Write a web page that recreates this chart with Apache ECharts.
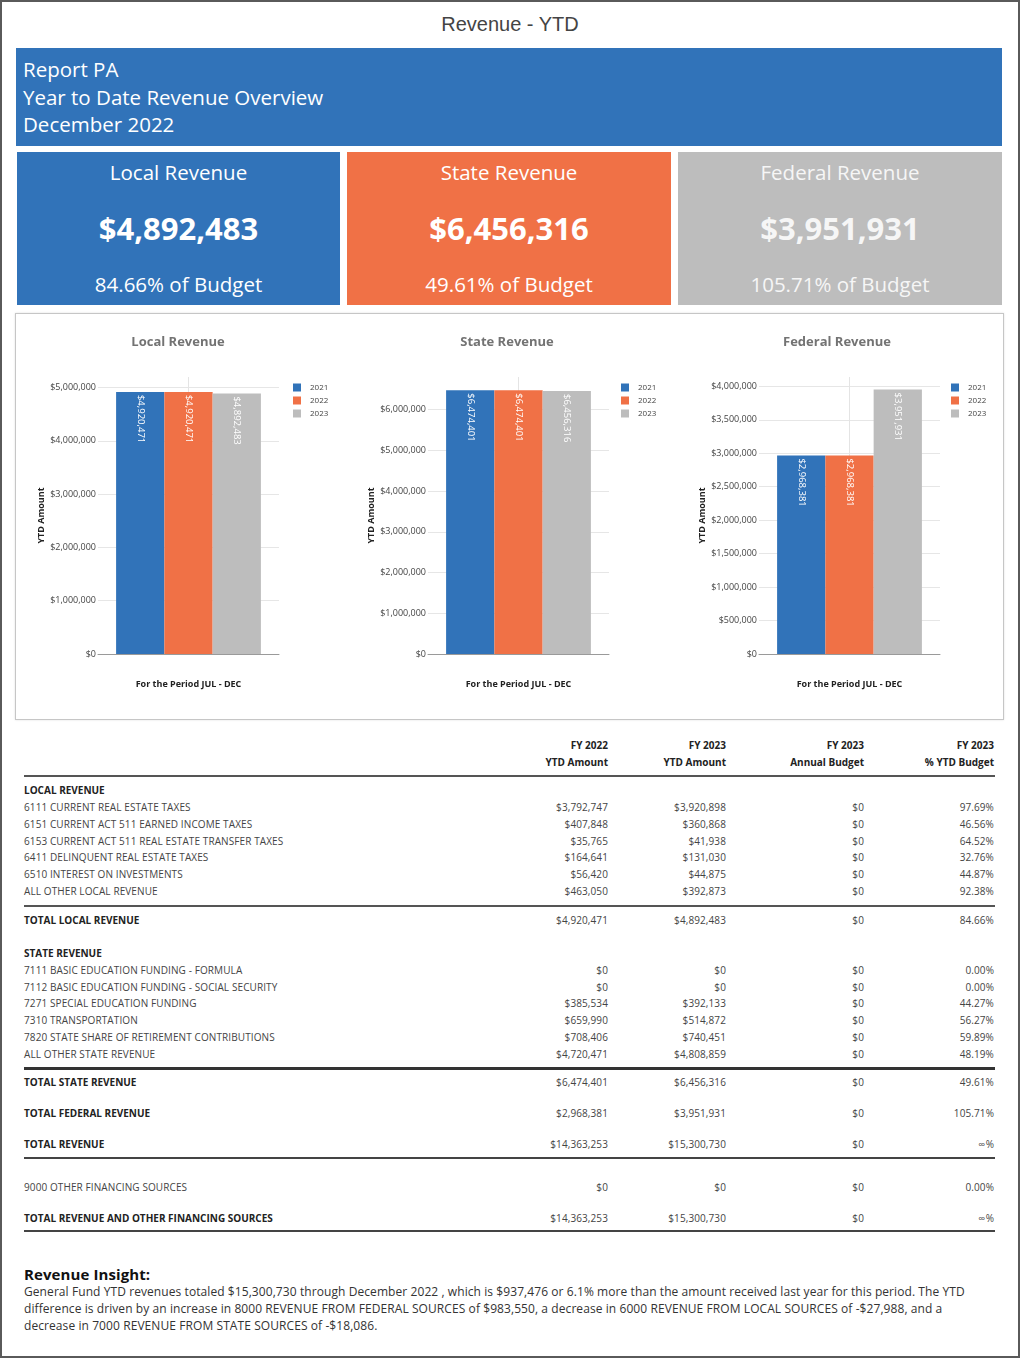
<!DOCTYPE html>
<html>
<head>
<meta charset="utf-8">
<script src="https://cdn.jsdelivr.net/npm/echarts@6/dist/echarts.min.js"></script>
<style>
  html,body{margin:0;padding:0;background:#fff;}
  #page{position:relative;width:1022px;height:1360px;overflow:hidden;font-family:'Open Sans',sans-serif;}
  .frame{position:absolute;left:0;top:0;width:1020px;height:1358px;border:2px solid #5a5a5a;box-sizing:border-box;}
  .pagetitle{position:absolute;left:0;width:1020px;top:11px;line-height:26px;text-align:center;font-family:'Liberation Sans',Arial,sans-serif;font-size:20px;color:#444;}
  .header{position:absolute;left:16px;top:48px;width:986px;height:98px;background:#3173b9;color:#fff;}
  .header div{position:absolute;left:7px;font-size:20.5px;line-height:28px;white-space:nowrap;}
  .card{position:absolute;top:152px;height:153px;color:#fff;text-align:center;}
  .card .t{position:absolute;left:0;right:0;top:5px;line-height:30px;font-size:20.5px;}
  .card .v{position:absolute;left:0;right:0;top:56px;line-height:40px;font-size:31px;font-weight:700;}
  .card .p{position:absolute;left:0;right:0;top:117px;line-height:30px;font-size:20.5px;}
  .panel{position:absolute;left:15px;top:313px;width:989px;height:407px;border:1px solid #c6c6c6;box-sizing:border-box;box-shadow:0 0 2px rgba(0,0,0,0.12);}
  #chart{position:absolute;left:16px;top:314px;width:987px;height:405px;}
  .cell{position:absolute;height:16px;line-height:16px;font-size:10px;letter-spacing:0.1px;white-space:nowrap;color:#444;}
  .num{width:140px;text-align:right;}
  .b{font-weight:700;color:#222;letter-spacing:0px;}
  .rule{position:absolute;left:24px;width:971px;background:#4a4a4a;}
  .insT{position:absolute;left:24px;top:1263px;line-height:22px;font-size:15px;font-weight:700;color:#111;letter-spacing:0.1px;}
  .ins{position:absolute;left:24px;top:1283px;font-size:12px;line-height:17px;letter-spacing:0.08px;color:#333;white-space:nowrap;}
</style>
</head>
<body>
<div id="page">
  <div class="frame"></div>
  <div class="pagetitle">Revenue - YTD</div>
  <div class="header" id="header"></div>
  <div id="cards"></div>
  <div class="panel"></div>
  <div id="chart"></div>
  <div id="table"></div>
  <div class="insT">Revenue Insight:</div>
  <div class="ins" id="insight"></div>
</div>
<script>
// ---------------- DATA ----------------
const headerLines = ['Report PA', 'Year to Date Revenue Overview', 'December 2022'];

const kpiTitles = ['Local Revenue', 'State Revenue', 'Federal Revenue'];
const kpiValues = [4892483, 6456316, 3951931];
const kpiPercents = [84.66, 49.61, 105.71];

const chartTitles = ['Local Revenue', 'State Revenue', 'Federal Revenue'];
const seriesYears = ['2021', '2022', '2023'];
const periodCategories = [''];
const localBars = [4920471, 4920471, 4892483];
const stateBars = [6474401, 6474401, 6456316];
const federalBars = [2968381, 2968381, 3951931];
const xAxisName = 'For the Period JUL - DEC';
const yAxisName = 'YTD Amount';

const tableHeader1 = ['FY 2022', 'FY 2023', 'FY 2023', 'FY 2023'];
const tableHeader2 = ['YTD Amount', 'YTD Amount', 'Annual Budget', '% YTD Budget'];

const localRows = [
  ['6111 CURRENT REAL ESTATE TAXES', 3792747, 3920898, 0, 97.69],
  ['6151 CURRENT ACT 511 EARNED INCOME TAXES', 407848, 360868, 0, 46.56],
  ['6153 CURRENT ACT 511 REAL ESTATE TRANSFER TAXES', 35765, 41938, 0, 64.52],
  ['6411 DELINQUENT REAL ESTATE TAXES', 164641, 131030, 0, 32.76],
  ['6510 INTEREST ON INVESTMENTS', 56420, 44875, 0, 44.87],
  ['ALL OTHER LOCAL REVENUE', 463050, 392873, 0, 92.38]
];
const localTotal = ['TOTAL LOCAL REVENUE', 4920471, 4892483, 0, 84.66];

const stateRows = [
  ['7111 BASIC EDUCATION FUNDING - FORMULA', 0, 0, 0, 0],
  ['7112 BASIC EDUCATION FUNDING - SOCIAL SECURITY', 0, 0, 0, 0],
  ['7271 SPECIAL EDUCATION FUNDING', 385534, 392133, 0, 44.27],
  ['7310 TRANSPORTATION', 659990, 514872, 0, 56.27],
  ['7820 STATE SHARE OF RETIREMENT CONTRIBUTIONS', 708406, 740451, 0, 59.89],
  ['ALL OTHER STATE REVENUE', 4720471, 4808859, 0, 48.19]
];
const stateTotal = ['TOTAL STATE REVENUE', 6474401, 6456316, 0, 49.61];
const federalTotal = ['TOTAL FEDERAL REVENUE', 2968381, 3951931, 0, 105.71];
const revenueTotal = ['TOTAL REVENUE', 14363253, 15300730, 0, Infinity];
const otherFinancing = ['9000 OTHER FINANCING SOURCES', 0, 0, 0, 0];
const grandTotal = ['TOTAL REVENUE AND OTHER FINANCING SOURCES', 14363253, 15300730, 0, Infinity];

const insightLines = [
  'General Fund YTD revenues totaled $15,300,730 through December 2022 , which is $937,476 or 6.1% more than the amount received last year for this period. The YTD',
  'difference is driven by an increase in 8000 REVENUE FROM FEDERAL SOURCES of $983,550, a decrease in 6000 REVENUE FROM LOCAL SOURCES of -$27,988, and a',
  'decrease in 7000 REVENUE FROM STATE SOURCES of -$18,086.'
];

// ---------------- HELPERS ----------------
const money = v => '$' + Number(v).toLocaleString('en-US');
const pct = v => (v === Infinity ? '\u221E' : v.toFixed(2)) + '%';
const colors = ['#3173b9', '#f07146', '#bdbdbd'];

// header
const header = document.getElementById('header');
headerLines.forEach((t, i) => {
  const d = document.createElement('div');
  d.style.top = (7 + i * 27.5) + 'px';
  d.textContent = t;
  header.appendChild(d);
});

// cards
const cardLefts = [17, 347, 678], cardWidths = [323, 324, 324];
const cardText = ['#ffffff', '#ffffff', '#f6f6f6'];
const cards = document.getElementById('cards');
kpiTitles.forEach((t, i) => {
  const c = document.createElement('div');
  c.className = 'card';
  c.style.left = cardLefts[i] + 'px';
  c.style.width = cardWidths[i] + 'px';
  c.style.background = colors[i];
  c.style.color = cardText[i];
  c.innerHTML = '<div class="t"></div><div class="v"></div><div class="p"></div>';
  c.querySelector('.t').textContent = t;
  c.querySelector('.v').textContent = money(kpiValues[i]);
  c.querySelector('.p').textContent = kpiPercents[i].toFixed(2) + '% of Budget';
  cards.appendChild(c);
});

// table
const table = document.getElementById('table');
const colRight = [608, 726, 864, 994];
function cell(text, x, yc, cls, right) {
  const d = document.createElement('div');
  d.className = 'cell ' + (cls || '');
  d.style.top = (yc - 8) + 'px';
  if (right) { d.classList.add('num'); d.style.left = (x - 140) + 'px'; }
  else d.style.left = x + 'px';
  d.textContent = text;
  table.appendChild(d);
}
function row(r, yc, cls) {
  cell(r[0], 24, yc, cls, false);
  cell(money(r[1]), colRight[0], yc, '', true);
  cell(money(r[2]), colRight[1], yc, '', true);
  cell(money(r[3]), colRight[2], yc, '', true);
  cell(pct(r[4]), colRight[3], yc, '', true);
}
function rule(y, h, c) {
  const d = document.createElement('div');
  d.className = 'rule';
  d.style.top = y + 'px';
  d.style.height = h + 'px';
  if (c) d.style.background = c;
  table.appendChild(d);
}
tableHeader1.forEach((t, i) => cell(t, colRight[i], 745, 'b', true));
tableHeader2.forEach((t, i) => cell(t, colRight[i], 762, 'b', true));
rule(775, 2, '#555');
cell('LOCAL REVENUE', 24, 790, 'b');
localRows.forEach((r, i) => row(r, 807 + i * 16.8, ''));
rule(905, 2, '#555');
row(localTotal, 920, 'b');
cell('STATE REVENUE', 24, 953, 'b');
stateRows.forEach((r, i) => row(r, 970 + i * 16.7, ''));
rule(1067, 2.5, '#333');
row(stateTotal, 1082, 'b');
row(federalTotal, 1113, 'b');
row(revenueTotal, 1144, 'b');
rule(1157, 2, '#444');
row(otherFinancing, 1187, '');
row(grandTotal, 1218, 'b');
rule(1230, 2, '#444');

document.getElementById('insight').innerHTML = insightLines.map(l => l.replace(/&/g,'&amp;')).join('<br>');

// ---------------- CHARTS ----------------
const barSets = [localBars, stateBars, federalBars];
const axisMax = [5200000, 6800000, 4140000];
const axisStep = [1000000, 1000000, 500000];
const gridLefts = [82, 412, 743];
const titleCenters = [157, 486, 816];
const legendLefts = [272, 600, 930];

const chart = echarts.init(document.getElementById('chart'));
const option = {
  animation: false,
  color: colors,
  textStyle: { fontFamily: 'Open Sans' },
  title: [], legend: [], grid: [], xAxis: [], yAxis: [], series: []
};
barSets.forEach((vals, i) => {
  option.title.push({
    text: chartTitles[i], left: titleCenters[i], top: 17, textAlign: 'center',
    textStyle: { fontSize: 13, fontWeight: 'bold', color: '#737373', fontFamily: 'Open Sans' }
  });
  option.legend.push({
    data: seriesYears, orient: 'vertical', left: legendLefts[i], top: 64,
    icon: 'rect', itemWidth: 8, itemHeight: 8, itemGap: 4, selectedMode: false,
    textStyle: { fontSize: 8, color: '#444', lineHeight: 9, fontFamily: 'Open Sans', padding: [0, 0, 0, 4] }
  });
  option.grid.push({ left: gridLefts[i], top: 63, width: 181, height: 277 });
  option.xAxis.push({
    type: 'category', gridIndex: i, data: periodCategories,
    name: xAxisName, nameLocation: 'middle', nameGap: 26,
    nameTextStyle: { fontSize: 9, fontWeight: 'bold', color: '#222', fontFamily: 'Open Sans' },
    axisLine: { lineStyle: { color: '#9a9a9a', width: 1 } },
    axisTick: { show: false }, axisLabel: { show: false }, splitLine: { show: false }
  });
  option.xAxis.push({
    type: 'value', gridIndex: i, min: -1, max: 1, interval: 1, position: 'top',
    axisLine: { show: false }, axisTick: { show: false }, axisLabel: { show: false },
    splitLine: { show: true, showMinLine: false, showMaxLine: false, lineStyle: { color: '#e4e4e4' } }
  });
  option.yAxis.push({
    type: 'value', gridIndex: i, min: 0, max: axisMax[i], interval: axisStep[i],
    name: yAxisName, nameLocation: 'middle', nameGap: 48, nameRotate: 90,
    nameTextStyle: { fontSize: 9, fontWeight: 'bold', color: '#222', fontFamily: 'Open Sans' },
    axisLine: { show: false }, axisTick: { show: false },
    axisLabel: {
      fontSize: 9, color: '#444', margin: 2, fontFamily: 'Open Sans',
      formatter: v => (v % axisStep[i] === 0 ? money(v) : '')
    },
    splitLine: { show: true, showMaxLine: false, lineStyle: { color: '#e6e6e6' } }
  });
  seriesYears.forEach((yr, j) => {
    option.series.push({
      type: 'bar', name: yr, xAxisIndex: i * 2, yAxisIndex: i,
      data: [vals[j]], barGap: '0%', barCategoryGap: '20%',
      itemStyle: { color: colors[j] },
      label: {
        show: true, position: 'insideTop', rotate: -90, align: 'left', verticalAlign: 'middle',
        distance: 3, color: '#fff', fontSize: 9.5, fontFamily: 'Open Sans',
        formatter: p => money(p.value)
      }
    });
  });
});
chart.setOption(option);
</script>
</body>
</html>
